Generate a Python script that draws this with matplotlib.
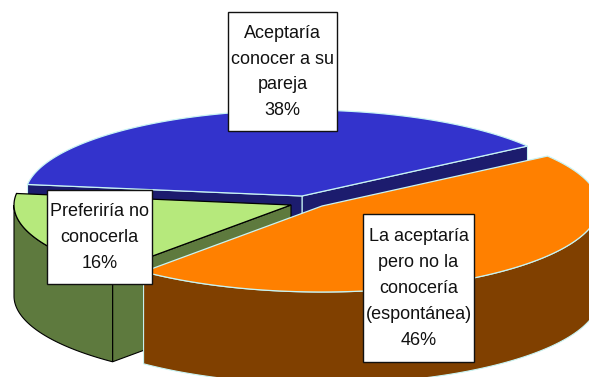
import numpy as np
import matplotlib
matplotlib.use("Agg")
import matplotlib.pyplot as plt
from matplotlib.patches import Polygon, Rectangle

categories = ["La aceptaría\npero no la\nconocería\n(espontánea)",
              "Preferiría no\nconocerla",
              "Aceptaría\nconocer a su\npareja"]
values = [46, 16, 38]

plt.rcParams["font.family"] = ["Liberation Sans", "DejaVu Sans"]

TOP = ["#FF8000", "#B6E97C", "#3333CC"]
SIDE = ["#804000", "#5E7A3E", "#1C1C6E"]
EDGE = ["#C8F4F4", "#000000", "#C8F4F4"]
CENTER = [(322, 206), (291, 205), (302, 196)]
DEPTH = [92, 91, 88]
BOX = [(363, 214, 111, 148), (47, 190, 105, 94), (228, 12, 109, 119)]
RX, RY = 277, 86
START = 35.5

fig = plt.figure(figsize=(5.89, 3.77), dpi=100, facecolor="white")
ax = fig.add_axes([0, 0, 1, 1])
ax.set_xlim(0, 589)
ax.set_ylim(377, 0)
ax.axis("off")

total = sum(values)
spans = {}
t = START
for i, v in enumerate(values):
    spans[i] = (t, t - 360 * v / total)
    t = spans[i][1]


def pt(i, deg, dz=0):
    c = CENTER[i]
    r = np.radians(deg)
    return np.column_stack([c[0] + RX * np.cos(r), c[1] - RY * np.sin(r) + dz])


def arc(i, a, b, dz=0):
    return pt(i, np.linspace(a, b, 200), dz)


def radial_face(i, deg, lw=0.8):
    c = np.array(CENTER[i], float)
    p = pt(i, np.array([deg]))[0]
    d = np.array([0, DEPTH[i]])
    ax.add_patch(Polygon([c, p, p + d, c + d], closed=True, fc=SIDE[i], ec=EDGE[i], lw=lw))


def arc_wall(i, a, b):
    # only the part of the rim facing the viewer (sin < 0)
    lo, hi = min(a, b), max(a, b)
    pieces = []
    for k in (-360, 0):
        s, e = max(lo, -180 + k), min(hi, 0 + k)
        if e > s:
            pieces.append((s, e))
    for s, e in pieces:
        top = arc(i, s, e)
        bot = arc(i, e, s, DEPTH[i])
        ax.add_patch(Polygon(np.vstack([top, bot]), closed=True, fc=SIDE[i], ec=EDGE[i], lw=0.8))


def top_face(i):
    a, b = spans[i]
    c = np.array([CENTER[i]], float)
    ax.add_patch(Polygon(np.vstack([c, arc(i, a, b)]), closed=True, fc=TOP[i], ec=EDGE[i], lw=0.9))


# blue (back slice)
radial_face(2, spans[2][1])
radial_face(2, spans[2][0])
top_face(2)
# green (left slice)
radial_face(1, spans[1][0])
arc_wall(1, spans[1][1], spans[1][0])
top_face(1)
# orange (front slice)
arc_wall(0, spans[0][1], spans[0][0])
top_face(0)

# data labels
for i, (txt, v) in enumerate(zip(categories, values)):
    x, y, w, h = BOX[i]
    ax.add_patch(Rectangle((x, y), w, h, fc="white", ec="#111111", lw=1.0, zorder=5))
    ax.text(x + w / 2, y + h / 2 + 0.5, f"{txt}\n{v}%", ha="center", va="center",
            fontsize=13, linespacing=1.68, color="#111111", zorder=6)

fig.savefig("out.png", dpi=100, facecolor="white")
